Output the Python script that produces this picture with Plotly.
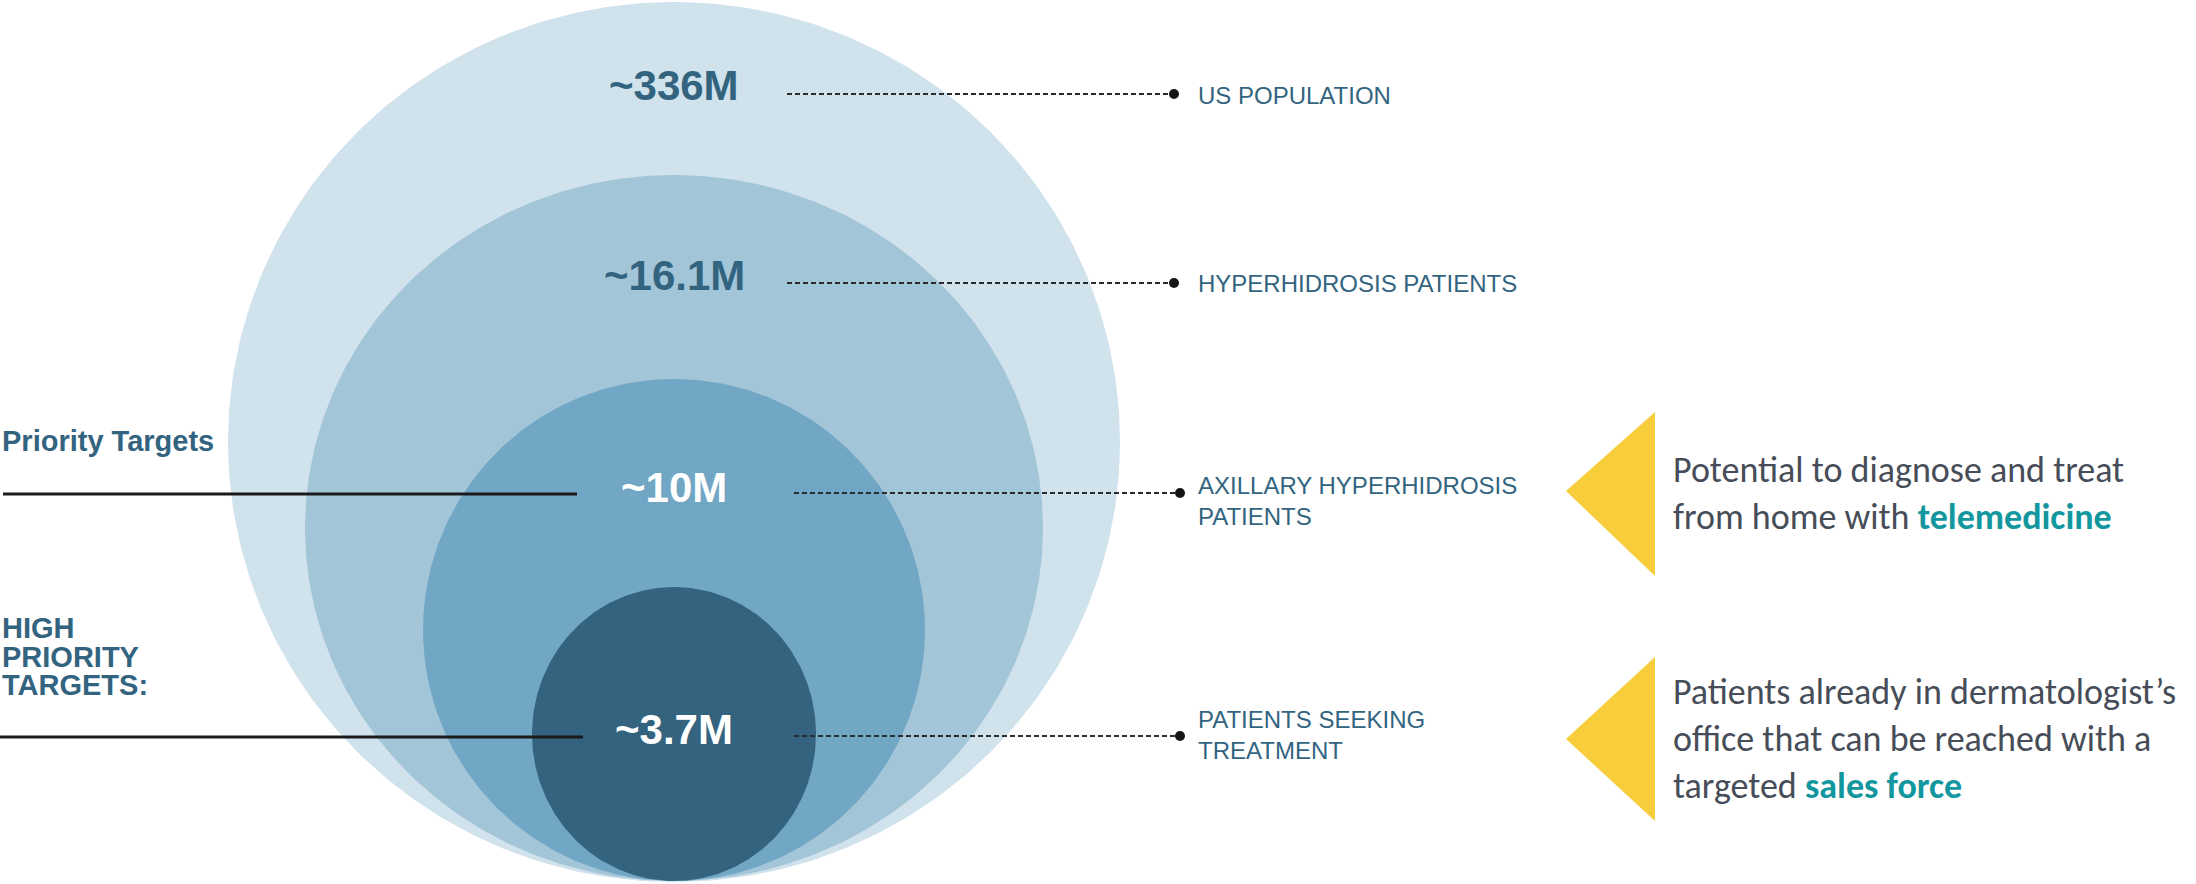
import numpy as np
import plotly.graph_objects as go

# market funnel (nested segments)
values = ["~336M", "~16.1M", "~10M", "~3.7M"]
segments = ["US POPULATION", "HYPERHIDROSIS PATIENTS",
            "AXILLARY HYPERHIDROSIS<br>PATIENTS", "PATIENTS SEEKING<br>TREATMENT"]
left_labels = ["Priority Targets", "HIGH", "PRIORITY", "TARGETS:"]
callouts = [
    "Potential to diagnose and treat<br>from home with <b><span style='color:#13979f'>telemedicine</span></b>",
    "Patients already in dermatologist’s<br>office that can be reached with a<br>targeted <b><span style='color:#13979f'>sales force</span></b>",
]

W, H = 2196, 884
fills = ["#d0e2ec", "#a3c5d8", "#72a6c5", "#33637e"]
value_colors = ["#33647f", "#33647f", "#ffffff", "#ffffff"]
# ellipse geometry in page pixels: cx, cy, rx, ry
ellipses = [(674, 442, 446, 440), (674, 528, 369, 353),
            (674, 630, 251, 251), (674, 734, 142, 147)]
value_y = [85, 275, 487, 729]
line_y = [94, 283, 493, 736]
line_x0 = [787, 787, 794, 794]
line_x1 = [1174, 1174, 1180, 1180]
label_y = [95, 283, 501, 735]

fig = go.Figure()

t = np.linspace(0, 2 * np.pi, 400)
for (cx, cy, rx, ry), col in zip(ellipses, fills):
    fig.add_trace(go.Scatter(
        x=cx + rx * np.cos(t), y=cy + ry * np.sin(t),
        mode='lines', line=dict(width=0, color=col),
        fill='toself', fillcolor=col, hoverinfo='skip'
    ))

# dashed leader lines with end dots
for i in range(len(values)):
    fig.add_trace(go.Scatter(
        x=[line_x0[i], line_x1[i]], y=[line_y[i], line_y[i]],
        mode='lines', line=dict(color='#2b2b2b', width=1.8, dash='5px,3px'),
        hoverinfo='skip'
    ))
    fig.add_trace(go.Scatter(
        x=[line_x1[i]], y=[line_y[i]], mode='markers',
        marker=dict(color='#151515', size=10), hoverinfo='skip'
    ))

# solid lines on the left
fig.add_trace(go.Scatter(x=[3, 577], y=[494, 494], mode='lines',
                         line=dict(color='#1a1a1a', width=3), hoverinfo='skip'))
fig.add_trace(go.Scatter(x=[0, 583], y=[737, 737], mode='lines',
                         line=dict(color='#1a1a1a', width=3), hoverinfo='skip'))

# yellow arrows
fig.add_trace(go.Scatter(x=[1566, 1655, 1655, 1566], y=[491, 412, 576, 491],
                         mode='lines', line=dict(width=0, color='#f7cd3b'),
                         fill='toself', fillcolor='#f7cd3b', hoverinfo='skip'))
fig.add_trace(go.Scatter(x=[1566, 1655, 1655, 1566], y=[739, 657, 821, 739],
                         mode='lines', line=dict(width=0, color='#f7cd3b'),
                         fill='toself', fillcolor='#f7cd3b', hoverinfo='skip'))

ann = []
for i, v in enumerate(values):
    ann.append(dict(x=674, y=value_y[i], text=f"<b>{v}</b>", showarrow=False,
                    xanchor='center', yanchor='middle',
                    font=dict(family='Arial, Liberation Sans', size=42, color=value_colors[i])))
    ann.append(dict(x=1196, y=label_y[i], text=segments[i], showarrow=False,
                    xanchor='left', yanchor='middle', align='left',
                    font=dict(family='Arial, Liberation Sans', size=24, color='#33647f')))

left_pos = [(0, 441), (0, 628), (0, 657), (0, 685)]
for txt, (lx, ly) in zip(left_labels, left_pos):
    ann.append(dict(x=lx, y=ly, text=f"<b>{txt}</b>", showarrow=False,
                    xanchor='left', yanchor='middle',
                    font=dict(family='Arial, Liberation Sans', size=29, color='#33647f')))

for txt, cy in zip(callouts, [493, 739]):
    ann.append(dict(x=1671, y=cy, text=txt, showarrow=False,
                    xanchor='left', yanchor='middle', align='left',
                    font=dict(family='Carlito, Lato, Open Sans', size=36, color='#474d58')))

fig.update_layout(
    width=W, height=H,
    margin=dict(l=0, r=0, t=0, b=0),
    paper_bgcolor='white', plot_bgcolor='white',
    showlegend=False,
    xaxis=dict(range=[0, W], visible=False, fixedrange=True),
    yaxis=dict(range=[H, 0], visible=False, fixedrange=True),
    annotations=ann
)

fig.write_html("out.html", config={'displayModeBar': False},
               post_script="document.body.style.margin='0';document.body.style.overflow='hidden';")
